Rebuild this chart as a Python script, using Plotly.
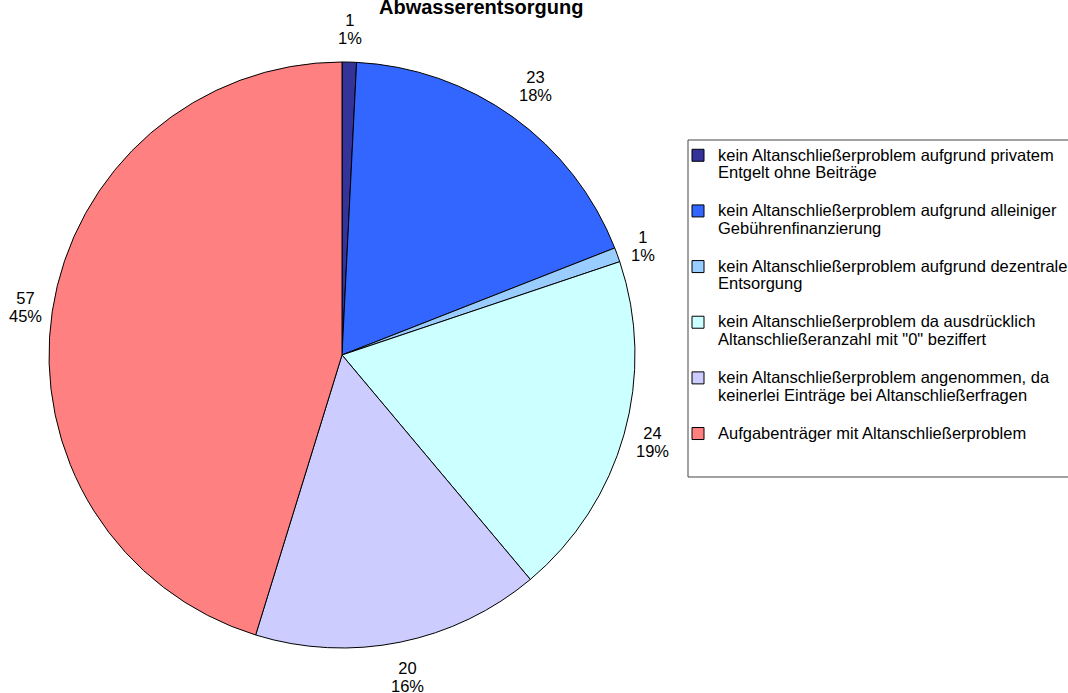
import math
import plotly.graph_objects as go

title_text = "Abwasserentsorgung"
legend_line1 = [
    "kein Altanschließerproblem aufgrund privatem",
    "kein Altanschließerproblem aufgrund alleiniger",
    "kein Altanschließerproblem aufgrund dezentraler",
    "kein Altanschließerproblem da ausdrücklich",
    "kein Altanschließerproblem angenommen, da",
    "Aufgabenträger mit Altanschließerproblem",
]
legend_line2 = [
    "Entgelt ohne Beiträge",
    "Gebührenfinanzierung",
    "Entsorgung",
    "Altanschließeranzahl mit \"0\" beziffert",
    "keinerlei Einträge bei Altanschließerfragen",
    "",
]
values = [1, 23, 1, 24, 20, 57]
colors = ["#333399", "#3366FF", "#99CCFF", "#CCFFFF", "#CCCCFF", "#FF8080"]

W, H = 1068, 693


def px(x):
    return x / W


def py(y):
    return 1 - y / H


FONT = "Arial, Liberation Sans, sans-serif"
LBL_SIZE = 16.5
SP = f"<span style='font-size:{LBL_SIZE}px'>"

# pie geometry (pixels)
CX, CY, R = 342, 355, 293
GAP = 7          # gap between circle and label box
HALF_H = 26      # half height of a two-line label box

names = []
for a, b in zip(legend_line1, legend_line2):
    names.append(f"{SP}{a}</span><br>{SP}{b if b else ' '}</span><br> ")

fig = go.Figure(
    go.Pie(
        labels=names,
        values=values,
        sort=False,
        direction="clockwise",
        rotation=0,
        marker=dict(colors=colors, line=dict(color="black", width=1)),
        textinfo="none",
        domain=dict(x=[px(CX - R), px(CX + R)], y=[py(CY + R), py(CY - R)]),
        hoverinfo="label+value+percent",
    )
)

# outside data labels: value and percent, placed beyond each slice's mid-angle
total = sum(values)
cum = 0
for v in values:
    ang = 2 * math.pi * (cum + v / 2) / total
    cum += v
    pct = f"{round(100 * v / total)}%"
    half_w = 0.5 * LBL_SIZE * (0.556 * (len(pct) - 1) + 0.889)
    dist = R + GAP + abs(math.sin(ang)) * half_w + abs(math.cos(ang)) * HALF_H
    lx = CX + dist * math.sin(ang)
    ly = CY - dist * math.cos(ang)
    fig.add_annotation(
        text=f"{SP}{v}</span><br>{SP}{pct}</span>",
        x=px(lx), y=py(ly), xref="paper", yref="paper",
        xanchor="center", yanchor="middle", showarrow=False,
        font=dict(family=FONT, size=14, color="black"),
    )

fig.add_annotation(
    text=f"<b>{title_text}</b>",
    x=px(481), y=py(7), xref="paper", yref="paper",
    xanchor="center", yanchor="middle", showarrow=False,
    font=dict(family=FONT, size=20, color="black"),
)

fig.add_shape(
    type="rect", xref="paper", yref="paper",
    x0=px(688), x1=px(1085), y0=py(477), y1=py(140),
    line=dict(color="#444444", width=1), fillcolor="rgba(0,0,0,0)",
)

fig.update_layout(
    width=W, height=H,
    margin=dict(l=0, r=0, t=0, b=0, autoexpand=False),
    paper_bgcolor="white", plot_bgcolor="white",
    showlegend=True,
    legend=dict(
        x=px(678), y=py(140), xanchor="left", yanchor="top",
        font=dict(family=FONT, size=13.5, color="black"),
        bgcolor="rgba(0,0,0,0)", borderwidth=0, valign="top",
        traceorder="normal",
    ),
)

fig.write_html(
    "out.html",
    config={"displayModeBar": False},
    post_script="document.body.style.margin='0';",
)
